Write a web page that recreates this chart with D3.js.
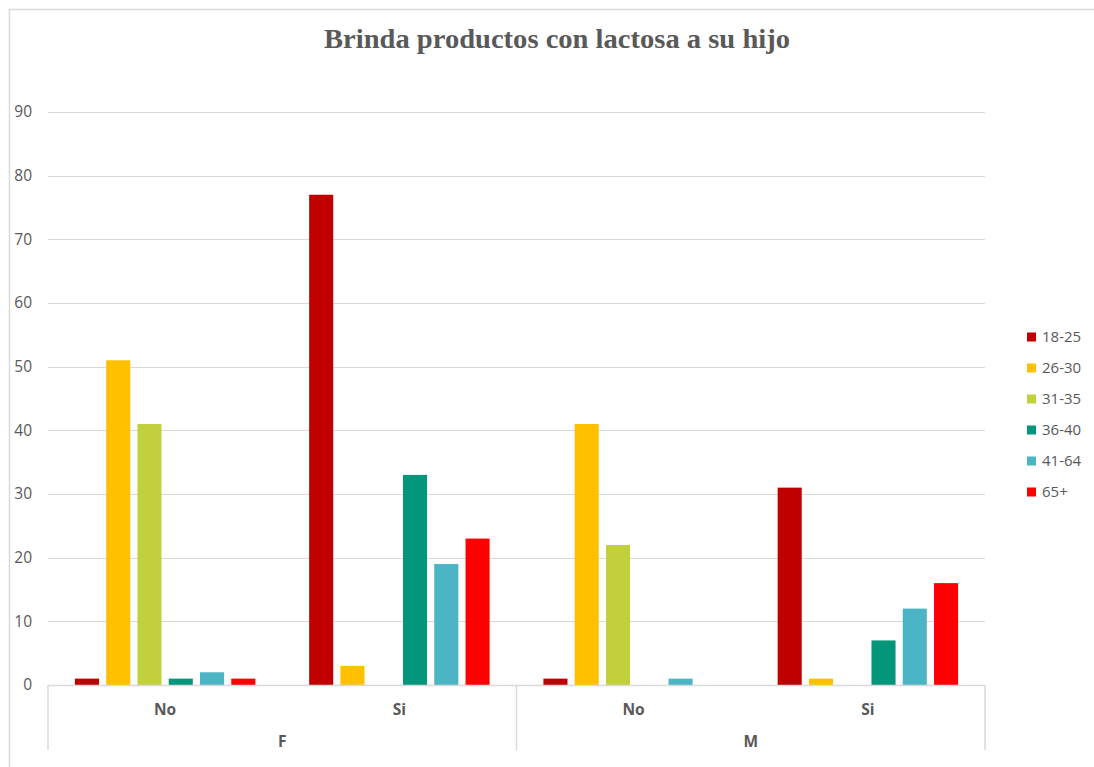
<!DOCTYPE html>
<html>
<head>
<meta charset="utf-8">
<script src="https://cdn.jsdelivr.net/npm/d3@7"></script>
<style>
  html, body { margin: 0; padding: 0; background: #fff; }
  svg { display: block; }
</style>
</head>
<body>
<svg id="chart" width="1094" height="767"></svg>
<script>
// Outer groups (gender) and inner categories (answer)
const genders = ["F", "M"];
const answers = ["No", "Si"];
// Age ranges (series)
const ageGroups = ["18-25", "26-30", "31-35", "36-40", "41-64", "65+"];
const seriesColors = ["#C00000", "#FFC000", "#C2D03C", "#03967A", "#4BB5C5", "#FF0000"];
// Counts per category, order: F-No, F-Si, M-No, M-Si
const v18_25 = [1, 77, 1, 31];
const v26_30 = [51, 3, 41, 1];
const v31_35 = [41, 0, 22, 0];
const v36_40 = [1, 33, 0, 7];
const v41_64 = [2, 19, 1, 12];
const v65plus = [1, 23, 0, 16];
const yTicks = [0, 10, 20, 30, 40, 50, 60, 70, 80, 90];
const title = "Brinda productos con lactosa a su hijo";

const seriesValues = [v18_25, v26_30, v31_35, v36_40, v41_64, v65plus];
const categories = [];
genders.forEach(g => answers.forEach(a => categories.push({ key: g + "-" + a, gender: g, answer: a })));

const svg = d3.select("#chart");
const textColor = "#595959";
const lineColor = "#d9d9d9";

// chart border
svg.append("rect")
  .attr("x", 9.5).attr("y", 9.5)
  .attr("width", 1200).attr("height", 900)
  .attr("fill", "none").attr("stroke", lineColor).attr("stroke-width", 1.5);

const plot = { left: 48, right: 985, top: 112, bottom: 685 };

const y = d3.scaleLinear().domain([0, 90]).range([plot.bottom, plot.top]);
const x0 = d3.scaleBand().domain(categories.map(c => c.key)).range([plot.left, plot.right]).padding(0);
const x1 = d3.scaleBand().domain(ageGroups).range([0, x0.bandwidth()]).paddingInner(0.23).paddingOuter(0.86);
const color = d3.scaleOrdinal().domain(ageGroups).range(seriesColors);

// gridlines
svg.append("g")
  .selectAll("line")
  .data(yTicks.filter(t => t > 0))
  .join("line")
  .attr("x1", plot.left).attr("x2", plot.right)
  .attr("y1", d => Math.round(y(d)) + 0.5).attr("y2", d => Math.round(y(d)) + 0.5)
  .attr("stroke", lineColor).attr("stroke-width", 1);

const labelFont = "'Open Sans', 'Noto Sans', sans-serif";

// y axis labels
const yAxis = d3.axisLeft(y).tickValues(yTicks).tickSize(0).tickPadding(0);
const yg = svg.append("g").attr("transform", "translate(32,0)").call(yAxis);
yg.select(".domain").remove();
yg.selectAll("text")
  .attr("fill", textColor)
  .attr("font-family", labelFont)
  .attr("font-size", 15.5);

// bars
const catG = svg.append("g")
  .selectAll("g")
  .data(categories)
  .join("g")
  .attr("transform", c => `translate(${x0(c.key)},0)`);

catG.selectAll("rect")
  .data((c, ci) => ageGroups.map((a, si) => ({ age: a, value: seriesValues[si][ci] })))
  .join("rect")
  .filter(d => d.value > 0)
  .attr("x", d => x1(d.age))
  .attr("width", x1.bandwidth())
  .attr("y", d => y(d.value))
  .attr("height", d => y(0) - y(d.value))
  .attr("fill", d => color(d.age));

// category axis: baseline and separators
const axisBottom = 750;
svg.append("line")
  .attr("x1", plot.left).attr("x2", plot.right)
  .attr("y1", plot.bottom + 0.5).attr("y2", plot.bottom + 0.5)
  .attr("stroke", lineColor).attr("stroke-width", 1.5);

const sepXs = [plot.left, x0("M-No"), plot.right];
svg.append("g").selectAll("line")
  .data(sepXs)
  .join("line")
  .attr("x1", d => d).attr("x2", d => d)
  .attr("y1", plot.bottom).attr("y2", axisBottom)
  .attr("stroke", lineColor).attr("stroke-width", 1.5);

svg.append("g").selectAll("text")
  .data(categories)
  .join("text")
  .attr("x", c => x0(c.key) + x0.bandwidth() / 2)
  .attr("y", 710)
  .attr("dy", "0.35em")
  .attr("text-anchor", "middle")
  .attr("fill", textColor)
  .attr("font-family", labelFont)
  .attr("font-weight", "bold")
  .attr("font-size", 15.5)
  .text(c => c.answer);

svg.append("g").selectAll("text")
  .data(genders)
  .join("text")
  .attr("x", g => x0(g + "-" + answers[0]) + x0.bandwidth())
  .attr("y", 742)
  .attr("dy", "0.35em")
  .attr("text-anchor", "middle")
  .attr("fill", textColor)
  .attr("font-family", labelFont)
  .attr("font-weight", "bold")
  .attr("font-size", 15.5)
  .text(g => g);

// title
svg.append("text")
  .attr("x", 557)
  .attr("y", 48)
  .attr("text-anchor", "middle")
  .attr("fill", textColor)
  .attr("font-family", "'Liberation Serif', 'DejaVu Serif', serif")
  .attr("font-weight", "bold")
  .attr("font-size", 28)
  .attr("textLength", 466)
  .attr("lengthAdjust", "spacingAndGlyphs")
  .text(title);

// legend
const legend = svg.append("g").attr("transform", "translate(1027,337)");
const li = legend.selectAll("g")
  .data(ageGroups)
  .join("g")
  .attr("transform", (d, i) => `translate(0,${i * 31})`);
li.append("rect")
  .attr("x", 0).attr("y", -4.5)
  .attr("width", 9).attr("height", 9)
  .attr("fill", d => color(d));
li.append("text")
  .attr("x", 15).attr("y", 0)
  .attr("dy", "0.35em")
  .attr("fill", textColor)
  .attr("font-family", labelFont)
  .attr("font-size", 15)
  .text(d => d);
</script>
</body>
</html>
